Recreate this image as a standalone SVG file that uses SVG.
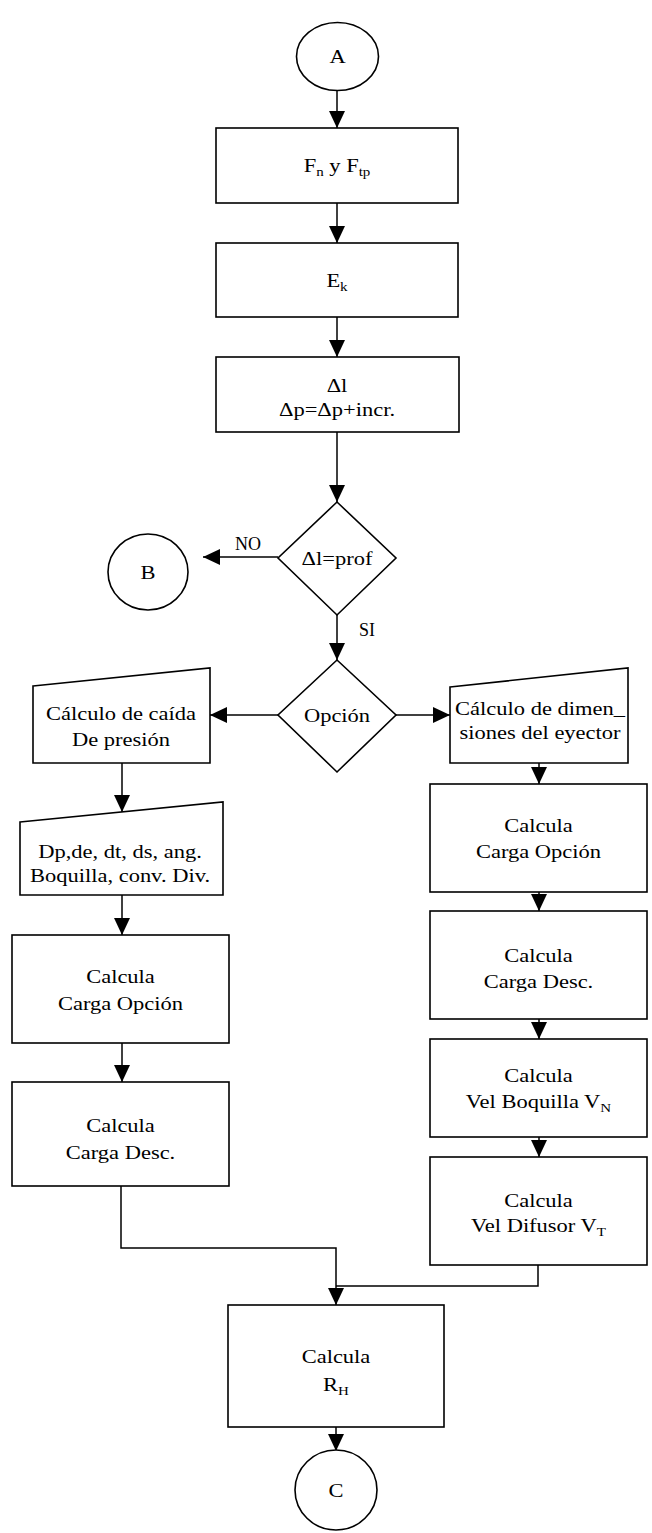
<svg xmlns="http://www.w3.org/2000/svg" width="652" height="1533" viewBox="0 0 652 1533">
  <defs>
    <marker id="arrow" markerUnits="userSpaceOnUse" markerWidth="18" markerHeight="18" refX="17" refY="8" orient="auto">
      <path d="M0,0 L17,8 L0,16 z" fill="#000"/>
    </marker>
    <style>
      .shape { fill: #fff; stroke: #000; stroke-width: 1.6; }
      .conn { fill: none; stroke: #000; stroke-width: 1.5; }
      .arr { marker-end: url(#arrow); }
      text { font-family: "Liberation Serif", "Times New Roman", serif; font-size: 18px; fill: #000; text-anchor: middle; }
      .lbl { text-anchor: start; }
      .sub { font-size: 12px; }
    </style>
  </defs>

  <rect width="652" height="1533" fill="#fff"/>

  <!-- connectors -->
  <g id="connectors">
    <line class="conn arr" x1="337" y1="90" x2="337" y2="128"/>
    <line class="conn arr" x1="337" y1="203" x2="337" y2="243"/>
    <line class="conn arr" x1="337" y1="317" x2="337" y2="357"/>
    <line class="conn arr" x1="337" y1="432" x2="337" y2="502"/>
    <line class="conn arr" x1="278" y1="557" x2="203" y2="557"/>
    <line class="conn arr" x1="337" y1="615" x2="337" y2="660"/>
    <line class="conn arr" x1="278" y1="715" x2="210" y2="715"/>
    <line class="conn arr" x1="396" y1="715" x2="450" y2="715"/>
    <line class="conn arr" x1="122" y1="763" x2="122" y2="812"/>
    <line class="conn arr" x1="122" y1="895" x2="122" y2="935"/>
    <line class="conn arr" x1="122" y1="1043" x2="122" y2="1082"/>
    <line class="conn arr" x1="539" y1="763" x2="539" y2="784"/>
    <line class="conn arr" x1="539" y1="892" x2="539" y2="911"/>
    <line class="conn arr" x1="539" y1="1019" x2="539" y2="1039"/>
    <line class="conn arr" x1="539" y1="1137" x2="539" y2="1157"/>
    <polyline class="conn arr" points="121,1186 121,1248 336,1248 336,1305"/>
    <polyline class="conn" points="538,1265 538,1286 336,1286"/>
    <line class="conn arr" x1="336" y1="1427" x2="336" y2="1451"/>
    <text x="248" y="550">NO</text>
    <text class="lbl" x="359" y="636">SI</text>
  </g>

  <!-- connector A -->
  <g id="node-a">
    <ellipse class="shape" cx="337.5" cy="56.5" rx="41" ry="34"/>
    <text transform="translate(337.5 63) scale(1.25 1)">A</text>
  </g>

  <g id="node-fn">
    <rect class="shape" x="216" y="128" width="242" height="75"/>
    <text transform="translate(337 172) scale(1.25 1)">F<tspan class="sub" dy="4">n</tspan><tspan dy="-4"> y F</tspan><tspan class="sub" dy="4">tp</tspan></text>
  </g>

  <g id="node-ek">
    <rect class="shape" x="216" y="243" width="242" height="74"/>
    <text transform="translate(337 287) scale(1.25 1)">E<tspan class="sub" dy="4">k</tspan></text>
  </g>

  <g id="node-incr">
    <rect class="shape" x="216" y="357" width="243" height="75"/>
    <text transform="translate(337 392) scale(1.25 1)">Δl</text>
    <text transform="translate(337 416) scale(1.25 1)">Δp=Δp+incr.</text>
  </g>

  <g id="node-prof">
    <polygon class="shape" points="337,502 396,558 337,615 278,558"/>
    <text transform="translate(337 565) scale(1.25 1)">Δl=prof</text>
  </g>

  <g id="node-b">
    <ellipse class="shape" cx="148" cy="572" rx="40" ry="38"/>
    <text transform="translate(148 579) scale(1.25 1)">B</text>
  </g>

  <g id="node-opcion">
    <polygon class="shape" points="337,660 396,715 337,772 278,715"/>
    <text transform="translate(337 722) scale(1.25 1)">Opción</text>
  </g>

  <!-- left branch -->
  <g id="node-caida">
    <polygon class="shape" points="33,686 210,668 210,763 33,763"/>
    <text transform="translate(121 720) scale(1.25 1)">Cálculo de caída</text>
    <text transform="translate(121 746) scale(1.25 1)">De presión</text>
  </g>

  <g id="node-dp">
    <polygon class="shape" points="20,822 223,802 223,895 20,895"/>
    <text transform="translate(120 858) scale(1.25 1)">Dp,de, dt, ds, ang.</text>
    <text transform="translate(120 882) scale(1.25 1)">Boquilla, conv. Div.</text>
  </g>

  <g id="node-carga-opcion-l">
    <rect class="shape" x="12" y="935" width="217" height="108"/>
    <text transform="translate(120.5 983) scale(1.25 1)">Calcula</text>
    <text transform="translate(120.5 1010) scale(1.25 1)">Carga Opción</text>
  </g>

  <g id="node-carga-desc-l">
    <rect class="shape" x="12" y="1082" width="217" height="104"/>
    <text transform="translate(120.5 1132) scale(1.25 1)">Calcula</text>
    <text transform="translate(120.5 1159) scale(1.25 1)">Carga Desc.</text>
  </g>

  <!-- right branch -->
  <g id="node-dimen">
    <polygon class="shape" points="450,687 628,668 628,763 450,763"/>
    <text transform="translate(540 715) scale(1.25 1)">Cálculo de dimen_</text>
    <text transform="translate(540 739) scale(1.25 1)">siones del eyector</text>
  </g>

  <g id="node-carga-opcion-r">
    <rect class="shape" x="430" y="784" width="217" height="108"/>
    <text transform="translate(538.5 832) scale(1.25 1)">Calcula</text>
    <text transform="translate(538.5 858) scale(1.25 1)">Carga Opción</text>
  </g>

  <g id="node-carga-desc-r">
    <rect class="shape" x="430" y="911" width="217" height="108"/>
    <text transform="translate(538.5 962) scale(1.25 1)">Calcula</text>
    <text transform="translate(538.5 988) scale(1.25 1)">Carga Desc.</text>
  </g>

  <g id="node-vn">
    <rect class="shape" x="430" y="1039" width="217" height="98"/>
    <text transform="translate(538.5 1082) scale(1.25 1)">Calcula</text>
    <text transform="translate(538.5 1108) scale(1.25 1)">Vel Boquilla V<tspan class="sub" dy="4">N</tspan></text>
  </g>

  <g id="node-vt">
    <rect class="shape" x="430" y="1157" width="217" height="108"/>
    <text transform="translate(538.5 1207) scale(1.25 1)">Calcula</text>
    <text transform="translate(538.5 1232) scale(1.25 1)">Vel Difusor V<tspan class="sub" dy="4">T</tspan></text>
  </g>

  <!-- merge -->
  <g id="node-rh">
    <rect class="shape" x="228" y="1305" width="216" height="122"/>
    <text transform="translate(336 1363) scale(1.25 1)">Calcula</text>
    <text transform="translate(336 1391) scale(1.25 1)">R<tspan class="sub" dy="4">H</tspan></text>
  </g>

  <g id="node-c">
    <ellipse class="shape" cx="336" cy="1490" rx="41" ry="40"/>
    <text transform="translate(336 1497) scale(1.25 1)">C</text>
  </g>
</svg>
